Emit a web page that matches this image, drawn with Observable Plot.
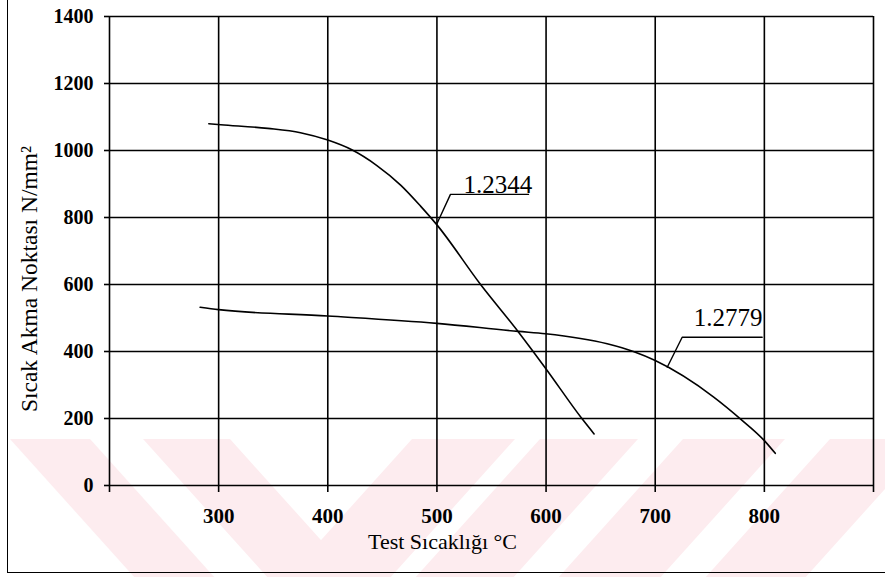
<!DOCTYPE html>
<html><head><meta charset="utf-8">
<script src="https://cdn.jsdelivr.net/npm/d3@7"></script>
<script src="https://cdn.jsdelivr.net/npm/@observablehq/plot@0.6"></script>
<style>
html,body{margin:0;padding:0;background:#fff;}
#wrap{position:relative;width:885px;height:577px;overflow:hidden;}
#wm{position:absolute;left:0;top:0;}
#chart{position:absolute;left:0;top:0;}
#border{position:absolute;left:7px;top:-2px;width:890px;height:575px;border-left:1.5px solid #000;border-bottom:1.5px solid #000;box-sizing:border-box;pointer-events:none;}
</style></head><body>
<div id="wrap"><svg id="wm" width="885" height="577"></svg><div id="chart"></div><div id="border"></div></div>
<script>
// ---- data ----
const temps1 = [291, 302, 345, 375, 400, 422, 445, 467, 485, 500, 540, 575, 600, 633, 644];
const vals1  = [1080, 1077, 1066, 1053, 1031, 1002, 955, 896, 834, 778, 600, 457, 348, 199, 154];
const temps2 = [283, 300, 400, 500, 574.5, 599.5, 656, 680, 700, 753.6, 778, 800, 810];
const vals2  = [532, 525, 506, 484, 460, 453, 423, 400, 373, 264, 199, 134, 96];
const seriesNames = ["1.2344", "1.2779"];
const labelX = [524.4, 735.4];
const labelY = [896, 499];
const leader1X = [500.2, 512.4, 583.9];
const leader1Y = [783, 869, 869];
const leader2X = [711, 724.7, 798];
const leader2Y = [353, 442.7, 442.7];
const xTicks = [200, 300, 400, 500, 600, 700, 800, 900];
const xTickLabels = ["", "300", "400", "500", "600", "700", "800", ""];
const yTicks = [0, 200, 400, 600, 800, 1000, 1200, 1400];
const yTickLabels = ["0", "200", "400", "600", "800", "1000", "1200", "1400"];
const xTitle = "Test Sıcaklığı °C";
const yTitle = "Sıcak Akma Noktası N/mm²";

// ---- watermark (decorative background, not chart data) ----
const wmTop = 439, wmBottom = 577, wmSlope = 0.9;
const backStripes = [[10, 90], [143, 230]];
const fwdStripes = [[412, 515], [540, 638], [683, 785], [830, 930]];
const wm = d3.select("#wm");
const shift = wmSlope * (wmBottom - wmTop);
backStripes.forEach(([a, b]) => wm.append("polygon")
  .attr("points", `${a},${wmTop} ${b},${wmTop} ${b + shift},${wmBottom} ${a + shift},${wmBottom}`)
  .attr("fill", "#fdecef"));
fwdStripes.forEach(([a, b]) => wm.append("polygon")
  .attr("points", `${a},${wmTop} ${b},${wmTop} ${b - shift},${wmBottom} ${a - shift},${wmBottom}`)
  .attr("fill", "#fdecef"));

// ---- tables ----
const s1 = temps1.map((t, i) => ({t, v: vals1[i]}));
const s2 = temps2.map((t, i) => ({t, v: vals2[i]}));
const l1 = leader1X.map((x, i) => ({x, y: leader1Y[i]}));
const l2 = leader2X.map((x, i) => ({x, y: leader2Y[i]}));
const labels = seriesNames.map((n, i) => ({n, x: labelX[i], y: labelY[i]}));
const sw = 1.6;

const plot = Plot.plot({
  width: 885, height: 577,
  marginLeft: 109, marginRight: 12, marginTop: 16, marginBottom: 92,
  x: {domain: [200, 900]},
  y: {domain: [0, 1400]},
  style: {background: "transparent", fontFamily: "'Liberation Serif', 'Times New Roman', serif", color: "#000"},
  marks: [
    Plot.gridX(xTicks.slice(1, -1), {stroke: "#000", strokeOpacity: 1, strokeWidth: sw}),
    Plot.gridY(yTicks.slice(1), {stroke: "#000", strokeOpacity: 1, strokeWidth: sw}),
    Plot.ruleX([xTicks[0], xTicks[xTicks.length - 1]], {stroke: "#000", strokeWidth: sw}),
    Plot.ruleY([yTicks[0]], {stroke: "#000", strokeWidth: sw}),
    Plot.axisX(xTicks, {tickSize: 7, tickPadding: 16, strokeWidth: sw,
      tickFormat: d => xTickLabels[xTicks.indexOf(d)], fontSize: 21, fontWeight: "bold", label: null}),
    Plot.axisY(yTicks, {tickSize: 5, tickPadding: 11, strokeWidth: sw,
      tickFormat: d => yTickLabels[yTicks.indexOf(d)], fontSize: 20, fontWeight: "bold", label: null}),
    Plot.line(s1, {x: "t", y: "v", curve: "monotone-x", stroke: "#000", strokeWidth: sw}),
    Plot.line(s2, {x: "t", y: "v", curve: "monotone-x", stroke: "#000", strokeWidth: sw}),
    Plot.line(l1, {x: "x", y: "y", stroke: "#000", strokeWidth: 1.4}),
    Plot.line(l2, {x: "x", y: "y", stroke: "#000", strokeWidth: 1.4}),
    Plot.text(labels, {x: "x", y: "y", text: "n", textAnchor: "start", fontSize: 25, fill: "#000"}),
    Plot.text([xTitle], {frameAnchor: "bottom", textAnchor: "middle", dx: -49, dy: 63.3, fontSize: 22, fill: "#000"}),
    Plot.text([yTitle], {frameAnchor: "left", textAnchor: "middle", rotate: -90, dx: -80, dy: 28, fontSize: 23.5, fill: "#000"})
  ]
});
document.getElementById("chart").appendChild(plot);
</script>
</body></html>
